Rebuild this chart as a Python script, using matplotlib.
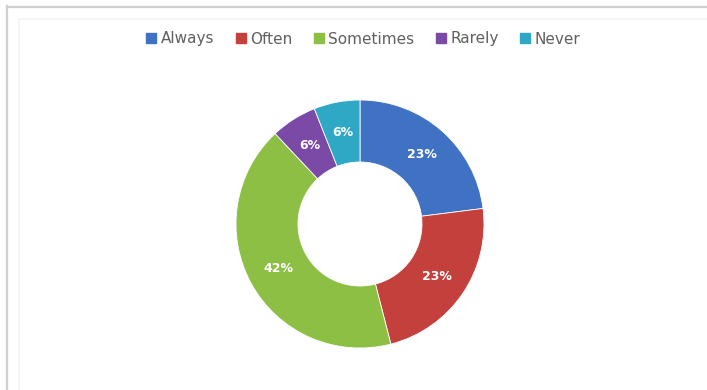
import matplotlib.pyplot as plt
from matplotlib.lines import Line2D
import numpy as np

categories = ['Always', 'Often', 'Sometimes', 'Rarely', 'Never']
shares = [23, 23, 42, 6, 6]
colors = ['#3F72C3', '#C3403C', '#8CBF43', '#7A4AA6', '#2FA8C6']

W, H = 707, 390
fig = plt.figure(figsize=(W / 100, H / 100), dpi=100)
fig.patch.set_facecolor('white')

# chart frame: only the top and left edges are visible
fig.add_artist(Line2D([6.5 / W, 6.5 / W], [0, 1 - 6 / H], color='#CFCFCF', lw=1.6))
fig.add_artist(Line2D([6.5 / W, 1], [1 - 6.5 / H, 1 - 6.5 / H], color='#CFCFCF', lw=1.6))
fig.add_artist(Line2D([19 / W, 19 / W], [0, 1 - 19 / H], color='#F4F4F4', lw=1.2))
fig.add_artist(Line2D([19 / W, 1], [1 - 19 / H, 1 - 19 / H], color='#F4F4F4', lw=1.2))

# donut, centre at (360, 224) px, outer radius 124 px
cx, cy, r = 360, 224, 124
ax = fig.add_axes([(cx - r) / W, (H - cy - r) / H, 2 * r / W, 2 * r / H])
wedges, _ = ax.pie(shares, colors=colors, startangle=90, counterclock=False,
                   radius=1.0, wedgeprops=dict(width=0.5, edgecolor='white', linewidth=0.6))
ax.set_xlim(-1, 1)
ax.set_ylim(-1, 1)
ax.set_aspect('equal')
ax.axis('off')

# percentage labels in the middle of each ring segment
start = 90.0
for val in shares:
    mid = np.deg2rad(start - val * 3.6 / 2)
    ax.text(0.75 * np.cos(mid), 0.75 * np.sin(mid), f'{val}%', ha='center', va='center',
            color='white', fontsize=9, fontweight='bold')
    start -= val * 3.6

handles = [Line2D([], [], marker='s', linestyle='none', markersize=6.5,
                  markerfacecolor=c, markeredgecolor=c) for c in colors]
fig.legend(handles, categories, loc='center', bbox_to_anchor=(363.5 / W, 1 - 39 / H),
           ncol=5, frameon=False, fontsize=11, labelcolor='#606060',
           handlelength=0.6, handletextpad=0.3, columnspacing=1.45, borderpad=0)

fig.savefig('out.png', dpi=100, facecolor='white')
